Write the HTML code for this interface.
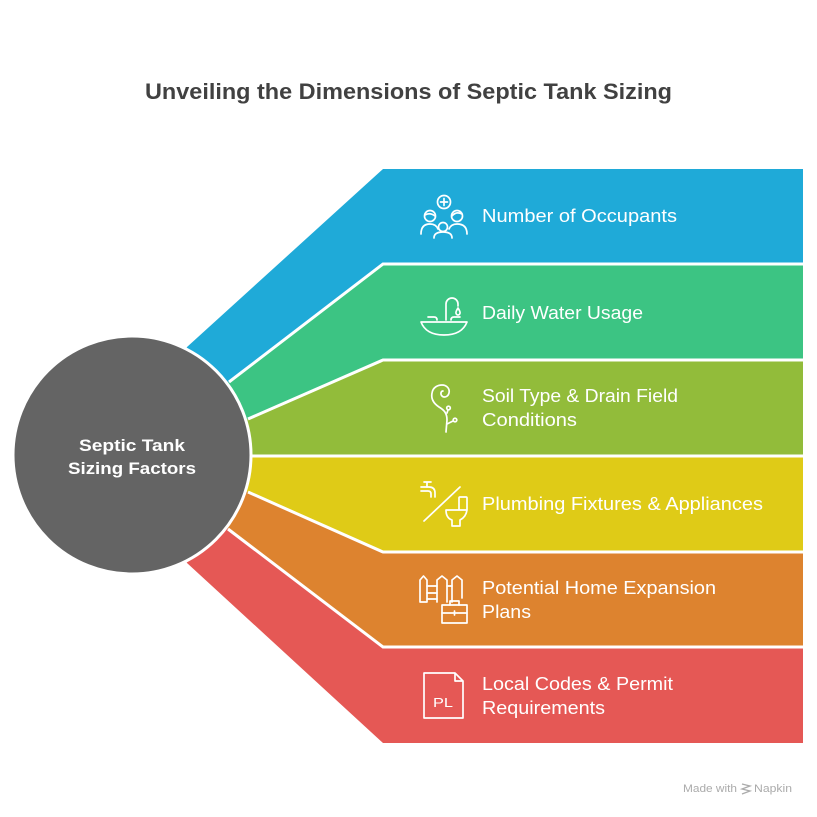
<!DOCTYPE html>
<html><head><meta charset="utf-8"><style>
html,body{margin:0;padding:0;background:#fff;}
svg{display:block;}
text{font-family:"Liberation Sans",Arial,sans-serif;}
</style></head><body>
<svg width="817" height="817" viewBox="0 0 817 817" xmlns="http://www.w3.org/2000/svg">
<rect width="817" height="817" fill="#fff"/>
<text x="145" y="99" font-size="22" font-weight="bold" fill="#414141" textLength="527" lengthAdjust="spacingAndGlyphs">Unveiling the Dimensions of Septic Tank Sizing</text>

<!-- bands -->
<polygon fill="#1FAAD8" points="383,169 803,169 803,264 383,264 229,382 132,455 187,347"/>
<polygon fill="#3CC483" points="383,264 803,264 803,360 383,360 248,419 132,455 229,382"/>
<polygon fill="#92BC3A" points="383,360 803,360 803,456 383,456 250,456 132,455 248,419"/>
<polygon fill="#DFCB17" points="383,456 803,456 803,552 383,552 248,492 132,455 250,456"/>
<polygon fill="#DD832F" points="383,552 803,552 803,647 383,647 228,529 132,455 248,492"/>
<polygon fill="#E55855" points="383,647 803,647 803,743 383,743 187,563 132,455 228,529"/>
<g stroke="#fff" stroke-width="3" fill="none">
<polyline points="229,382 383,264 805,264"/>
<polyline points="248,419 383,360 805,360"/>
<polyline points="240,456 805,456"/>
<polyline points="248,492 383,552 805,552"/>
<polyline points="228,529 383,647 805,647"/>
</g>
<circle cx="132" cy="455" r="119" fill="#646464" stroke="#fff" stroke-width="3"/>
<text x="79" y="451" font-size="17" font-weight="bold" fill="#fff" textLength="106" lengthAdjust="spacingAndGlyphs">Septic Tank</text>
<text x="68" y="474" font-size="17" font-weight="bold" fill="#fff" textLength="128" lengthAdjust="spacingAndGlyphs">Sizing Factors</text>

<!-- labels -->
<g fill="#fff" font-size="18">
<text x="482" y="222" textLength="195" lengthAdjust="spacingAndGlyphs">Number of Occupants</text>
<text x="482" y="319" textLength="161" lengthAdjust="spacingAndGlyphs">Daily Water Usage</text>
<text x="482" y="402" textLength="196" lengthAdjust="spacingAndGlyphs">Soil Type &amp; Drain Field</text>
<text x="482" y="426" textLength="95" lengthAdjust="spacingAndGlyphs">Conditions</text>
<text x="482" y="510" textLength="281" lengthAdjust="spacingAndGlyphs">Plumbing Fixtures &amp; Appliances</text>
<text x="482" y="594" textLength="234" lengthAdjust="spacingAndGlyphs">Potential Home Expansion</text>
<text x="482" y="618" textLength="49" lengthAdjust="spacingAndGlyphs">Plans</text>
<text x="482" y="690" textLength="191" lengthAdjust="spacingAndGlyphs">Local Codes &amp; Permit</text>
<text x="482" y="714" textLength="123" lengthAdjust="spacingAndGlyphs">Requirements</text>
</g>

<!-- icons -->
<g stroke="#fff" stroke-width="1.7" fill="none" stroke-linecap="round" stroke-linejoin="round">
<!-- occupants -->
<circle cx="444" cy="202" r="6.5"/>
<path d="M444,198.5 V205.5 M440.5,202 H447.5"/>
<circle cx="430" cy="216" r="5.5"/>
<path d="M425,215 Q430,212 435,216"/>
<path d="M421,234 Q421,224 430,224 Q436,224 438,229"/>
<circle cx="457" cy="216" r="5.5"/>
<path d="M452,216 Q456,211 462,214"/>
<path d="M467,234 Q467,224 457,224 Q451,224 449,229"/>
<circle cx="443" cy="227" r="4.5"/>
<path d="M434,238 Q434,232 443,232 Q452,232 452,238"/>
<!-- water -->
<path d="M446,320 V304 A6,6 0 0 1 458,304 V306"/>
<path d="M458,308 Q455.5,312 456,313 A2,2 0 0 0 460,313 Q460.5,312 458,308 Z"/>
<path d="M421,322 H467 Q462,335 444,335 Q426,335 421,322 Z"/>
<path d="M428,317 H434 Q437,317 437,320 M460,317 H454 Q451,317 451,320"/>
<!-- soil -->
<path d="M446,432 L447,420 C447,413 444,410 439,407 C433,403 431,398 432,393 C433,387 438,385 442,385 C447,385 450,389 449,393 C448,397 444,398 442,396 C440,394 441,391 443,391"/>
<path d="M447,413 L448,410 M447,424 L453,421"/>
<circle cx="448.5" cy="408" r="1.8"/>
<circle cx="455" cy="420" r="1.8"/>
<!-- plumbing -->
<path d="M421,487 H429 Q435,487 435,493 V497 M431,497 V494 Q431,491 428,491 H421"/>
<path d="M427,487 V483 M424,482 H431"/>
<path d="M424,521 L460,487"/>
<rect x="459" y="497" width="8" height="13" rx="1"/>
<path d="M446,510 H459 M446,510 Q446,518 452,520 V526 H460 V520 Q466,517 467,510"/>
<!-- expansion -->
<path d="M420,602 V580 L423.5,576 L427,580 V602 Z"/>
<path d="M437,602 V580 L442,576 L447,580 V602"/>
<path d="M452,602 V580 L457,576 L462,580 V598"/>
<path d="M427,586 H437 M427,593 H437 M427,599 H437 M447,586 H452"/>
<rect x="442" y="605" width="25" height="18"/>
<path d="M450,605 V601 H459 V605 M442,613 H467 M454.5,611 V615"/>
<!-- codes -->
<path d="M424,673 H455 L463,681 V718 H424 Z M455,673 V681 H463"/>
</g>
<text x="433" y="707" font-size="12.5" fill="#fff" textLength="20" lengthAdjust="spacingAndGlyphs">PL</text>

<!-- footer -->
<text x="683" y="792" font-size="11" fill="#ababab" textLength="54" lengthAdjust="spacingAndGlyphs">Made with</text>
<g stroke="#ababab" stroke-width="1.3" fill="none">
<path d="M742,784 L750,786 L742,789 L750,791 L742,794"/>
</g>
<text x="754" y="792" font-size="11" fill="#ababab" textLength="38" lengthAdjust="spacingAndGlyphs">Napkin</text>
</svg>
</body></html>
